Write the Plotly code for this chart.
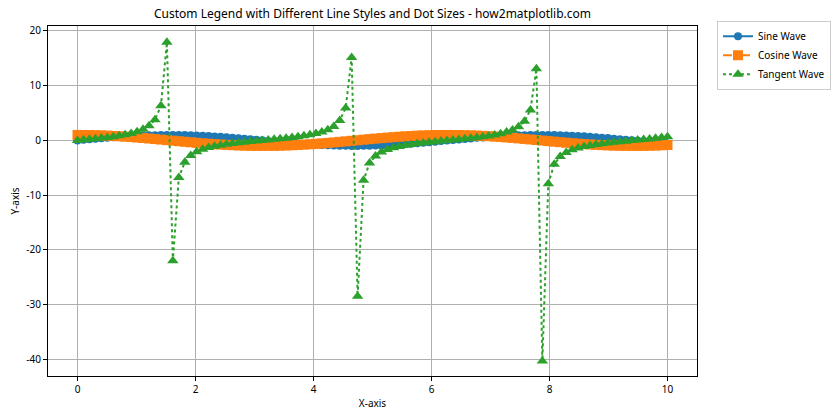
import plotly.graph_objects as go

x_vals = [0.0, 0.101, 0.202, 0.303, 0.404, 0.5051, 0.6061, 0.7071, 0.8081, 0.9091,
          1.0101, 1.1111, 1.2121, 1.3131, 1.4141, 1.5152, 1.6162, 1.7172, 1.8182, 1.9192,
          2.0202, 2.1212, 2.2222, 2.3232, 2.4242, 2.5253, 2.6263, 2.7273, 2.8283, 2.9293,
          3.0303, 3.1313, 3.2323, 3.3333, 3.4343, 3.5354, 3.6364, 3.7374, 3.8384, 3.9394,
          4.0404, 4.1414, 4.2424, 4.3434, 4.4444, 4.5455, 4.6465, 4.7475, 4.8485, 4.9495,
          5.0505, 5.1515, 5.2525, 5.3535, 5.4545, 5.5556, 5.6566, 5.7576, 5.8586, 5.9596,
          6.0606, 6.1616, 6.2626, 6.3636, 6.4646, 6.5657, 6.6667, 6.7677, 6.8687, 6.9697,
          7.0707, 7.1717, 7.2727, 7.3737, 7.4747, 7.5758, 7.6768, 7.7778, 7.8788, 7.9798,
          8.0808, 8.1818, 8.2828, 8.3838, 8.4848, 8.5859, 8.6869, 8.7879, 8.8889, 8.9899,
          9.0909, 9.1919, 9.2929, 9.3939, 9.4949, 9.596, 9.697, 9.798, 9.899, 10.0]

sine_vals = [0.0, 0.1008, 0.2006, 0.2984, 0.3931, 0.4838, 0.5696, 0.6496, 0.7229, 0.7889,
             0.8469, 0.8961, 0.9363, 0.9669, 0.9878, 0.9984, 0.999, 0.9893, 0.9696, 0.9399,
             0.9007, 0.8523, 0.7952, 0.7302, 0.6577, 0.5784, 0.4932, 0.403, 0.3088, 0.2116,
             0.1112, 0.0103, -0.0906, -0.1906, -0.2889, -0.3844, -0.4758, -0.5621, -0.6428, -0.7166,
             -0.7828, -0.8411, -0.8904, -0.9307, -0.9644, -0.9862, -0.9978, -0.9994, -0.9908, -0.9721,
             -0.9435, -0.9051, -0.8575, -0.8011, -0.737, -0.6653, -0.5872, -0.5023, -0.4123, -0.3185,
             -0.221, -0.1213, -0.0206, 0.0803, 0.1804, 0.2787, 0.3742, 0.4658, 0.5526, 0.6338,
             0.7084, 0.776, 0.8354, 0.8866, 0.9288, 0.9614, 0.9842, 0.9971, 0.9997, 0.9922,
             0.9745, 0.9467, 0.9094, 0.8628, 0.8074, 0.7441, 0.6731, 0.5955, 0.5112, 0.4216,
             0.3283, 0.231, 0.1315, 0.0309, -0.07, -0.1706, -0.2695, -0.3656, -0.4572, -0.544]

cosine_vals = [1.0, 0.9949, 0.9797, 0.9544, 0.9195, 0.8752, 0.8219, 0.7603, 0.6909, 0.6145,
               0.5318, 0.4438, 0.3512, 0.2551, 0.1564, 0.0557, -0.0454, -0.1458, -0.2445, -0.3413,
               -0.4345, -0.523, -0.6063, -0.6832, -0.7533, -0.8157, -0.8699, -0.9152, -0.9511, -0.9774,
               -0.9938, -0.9999, -0.9959, -0.9817, -0.9574, -0.9232, -0.8795, -0.8271, -0.766, -0.6975,
               -0.6222, -0.5408, -0.4551, -0.3658, -0.2648, -0.1664, -0.0659, 0.0351, 0.1357, 0.2346,
               0.3315, 0.4252, 0.5145, 0.5985, 0.6759, 0.7466, 0.8095, 0.8647, 0.911, 0.9479,
               0.9753, 0.9926, 0.9998, 0.9968, 0.9836, 0.9604, 0.9273, 0.8849, 0.8334, 0.7735,
               0.7058, 0.6307, 0.5497, 0.4625, 0.3705, 0.2751, 0.1767, 0.0761, -0.0248, -0.1255,
               -0.2247, -0.3217, -0.4158, -0.5055, -0.59, -0.6681, -0.7395, -0.8034, -0.8595, -0.9068,
               -0.9446, -0.973, -0.9913, -0.9995, -0.9975, -0.9853, -0.963, -0.9308, -0.8894, -0.8391]

tangent_vals = [0.0, 0.101, 0.205, 0.313, 0.428, 0.553, 0.693, 0.854, 1.046, 1.284,
                1.592, 2.019, 2.666, 3.79, 6.316, 17.92, -22.0, -6.79, -3.97, -2.75,
                -2.07, -1.63, -1.31, -1.069, -0.873, -0.709, -0.567, -0.44, -0.325, -0.2165,
                -0.1119, -0.0103, 0.091, 0.1942, 0.3018, 0.4164, 0.541, 0.6796, 0.8392, 1.0274,
                1.258, 1.555, 1.957, 2.544, 3.642, 5.927, 15.14, -28.47, -7.3, -4.14,
                -2.846, -2.129, -1.667, -1.339, -1.09, -0.891, -0.725, -0.581, -0.453, -0.336,
                -0.2266, -0.1222, -0.0206, 0.0806, 0.1834, 0.2902, 0.4035, 0.5264, 0.6631, 0.8194,
                1.0037, 1.2304, 1.5197, 1.917, 2.507, 3.495, 5.57, 13.1, -40.3, -7.91,
                -4.34, -2.94, -2.187, -1.707, -1.368, -1.114, -0.91, -0.741, -0.595, -0.465,
                -0.3476, -0.2374, -0.1327, -0.0309, 0.0702, 0.1731, 0.2799, 0.3928, 0.514, 0.6484]

series_names = ["Sine Wave", "Cosine Wave", "Tangent Wave"]
x_ticks = [0, 2, 4, 6, 8, 10]
y_ticks = [-40, -30, -20, -10, 0, 10, 20]
y_tick_labels = ["-40", "-30", "-20", "-10", "0", "10", "20"]

FONT = "Noto Sans, DejaVu Sans, sans-serif"

fig = go.Figure()
fig.add_trace(go.Scatter(
    x=x_vals, y=sine_vals, name=series_names[0], mode="lines+markers",
    line=dict(color="#1f77b4", width=2, dash="solid"),
    marker=dict(symbol="circle", size=8, color="#1f77b4"),
))
fig.add_trace(go.Scatter(
    x=x_vals, y=cosine_vals, name=series_names[1], mode="lines+markers",
    line=dict(color="#ff7f0e", width=2, dash="dash"),
    marker=dict(symbol="square", size=10, color="#ff7f0e"),
))
fig.add_trace(go.Scatter(
    x=x_vals, y=tangent_vals, name=series_names[2], mode="lines+markers",
    line=dict(color="#2ca02c", width=2, dash="dot"),
    marker=dict(symbol="triangle-up", size=10, color="#2ca02c"),
))

axis_common = dict(
    showgrid=True, gridcolor="#b0b0b0", gridwidth=0.8,
    showline=True, linecolor="black", linewidth=1, mirror=True,
    ticks="outside", ticklen=4, tickcolor="black",
    tickfont=dict(family=FONT, size=10, color="black"),
    zeroline=False, automargin=False,
)

fig.update_layout(
    width=840, height=420,
    margin=dict(l=48, r=143, t=26, b=44, autoexpand=False),
    paper_bgcolor="white", plot_bgcolor="white",
    title=dict(text="Custom Legend with Different Line Styles and Dot Sizes - how2matplotlib.com",
               x=(48 + 697) / 2 / 840, xanchor="center", y=1 - 14 / 420, yanchor="middle",
               font=dict(family=FONT, size=12, color="black")),
    xaxis=dict(range=[-0.5, 10.5], tickvals=x_ticks,
               title=dict(text="X-axis", font=dict(family=FONT, size=10, color="black"), standoff=4),
               **axis_common),
    yaxis=dict(range=[-43.05, 20.91], tickvals=y_ticks, ticktext=y_tick_labels,
               title=dict(text="Y-axis", font=dict(family=FONT, size=10, color="black"), standoff=4),
               **axis_common),
    legend=dict(x=(831 - 48) / 649, y=1.015, xanchor="right", yanchor="top",
                bordercolor="#cccccc", borderwidth=1, bgcolor="white",
                font=dict(family=FONT, size=10, color="black"),
                tracegroupgap=0, itemwidth=30),
    showlegend=True,
)

fig.write_html("out.html", config={"displayModeBar": False},
               post_script="document.body.style.margin='0';document.body.style.padding='0';")
